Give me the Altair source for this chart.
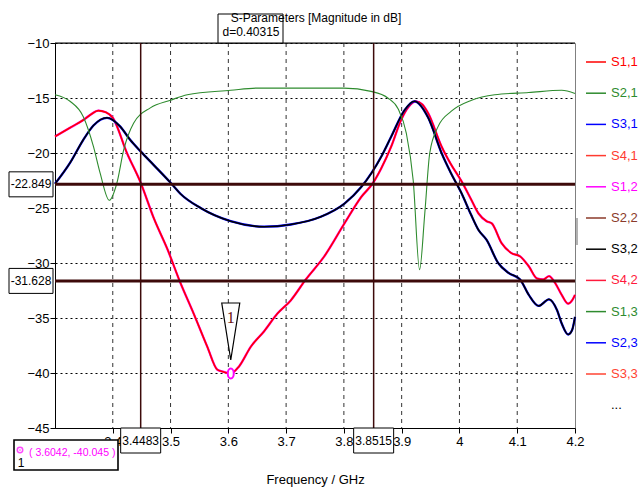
import altair as alt
import pandas as pd

FONT = "Liberation Sans, Arial, sans-serif"

# ---------------- data ----------------
series_names = ["S1,1", "S2,1", "S3,1", "S4,1", "S1,2", "S2,2",
                "S3,2", "S4,2", "S1,3", "S2,3", "S3,3", "..."]
series_colors = ["#ff0000", "#2e8b2e", "#0000ff", "#ff3b30", "#ff00ff", "#8b3a2a",
                 "#000000", "#ff1a3c", "#2e8b2e", "#0000ff", "#ff4433", "#ffffff"]

# group with the deep notch near 3.6 GHz (S1,1 / S1,2 overlap)
freq_a = [3.300, 3.326, 3.349, 3.362, 3.375, 3.388, 3.400, 3.4245, 3.4483, 3.4708,
          3.495, 3.517, 3.540, 3.5635, 3.581, 3.592, 3.604, 3.6185, 3.639, 3.662,
          3.685, 3.708, 3.734, 3.766, 3.801, 3.830, 3.850, 3.8646, 3.882, 3.899,
          3.912, 3.925, 3.936, 3.946, 3.969, 3.985, 4.004, 4.020, 4.033, 4.047,
          4.056, 4.073, 4.090, 4.105, 4.120, 4.134, 4.145, 4.155, 4.166, 4.177,
          4.188, 4.195, 4.200]
s11_db = [-18.5, -17.7, -17.0, -16.5, -16.15, -16.3, -16.8, -20.0, -22.7, -25.9,
          -28.8, -31.8, -34.6, -37.6, -39.7, -39.9, -40.05, -39.4, -37.6, -36.2,
          -34.6, -33.4, -31.5, -29.4, -26.4, -24.0, -22.75, -21.4, -19.4, -17.0,
          -15.8, -15.3, -15.6, -16.4, -19.4, -21.0, -22.6, -24.2, -25.5, -26.2,
          -26.4, -28.2, -29.1, -29.4, -30.3, -31.4, -31.5, -31.2, -31.85, -32.9,
          -33.7, -33.4, -32.9]

# group with the shallow dip near 3.67 GHz (S3,1 / S3,2 overlap)
freq_b = [3.300, 3.326, 3.349, 3.3665, 3.390, 3.413, 3.430, 3.449, 3.471, 3.500,
          3.517, 3.552, 3.604, 3.662, 3.708, 3.760, 3.801, 3.830, 3.865, 3.882,
          3.905, 3.922, 3.946, 3.969, 3.985, 4.004, 4.020, 4.033, 4.047, 4.067,
          4.085, 4.105, 4.120, 4.137, 4.155, 4.169, 4.177, 4.188, 4.195, 4.200]
s32_db = [-22.8, -20.9, -18.8, -17.5, -16.8, -17.6, -18.8, -19.9, -21.1, -22.7,
          -23.7, -25.0, -26.2, -26.7, -26.5, -25.8, -24.6, -23.1, -20.3, -18.5,
          -16.1, -15.3, -16.8, -20.0, -21.8, -23.7, -25.6, -27.0, -27.9, -30.0,
          -30.9, -31.5, -32.9, -33.9, -33.3, -34.3, -35.5, -36.5, -36.1, -34.9]

# transmission-like trace with two sharp notches
freq_c = [3.300, 3.326, 3.349, 3.3665, 3.378, 3.394, 3.407, 3.419, 3.436, 3.465,
          3.500, 3.529, 3.604, 3.650, 3.800, 3.847, 3.876, 3.894, 3.908, 3.920,
          3.931, 3.940, 3.9486, 3.963, 3.986, 4.021, 4.061, 4.120, 4.177, 4.200]
s21_db = [-14.7, -15.3, -16.7, -19.4, -21.8, -24.3, -22.75, -19.7, -17.3, -15.9,
          -15.2, -14.7, -14.3, -14.1, -14.1, -14.4, -15.0, -16.0, -18.2, -22.5,
          -30.6, -25.5, -20.0, -17.6, -16.2, -15.2, -14.7, -14.5, -14.3, -14.6]

marker_levels_db = [-22.849, -31.628]
marker_level_labels = ["-22.849", "-31.628"]
marker_freqs = [3.4483, 3.8515]
marker_freq_labels = ["3.4483", "3.8515"]
delta_label = ["d=0.40315"]
point_freq = [3.6042]
point_db = [-40.045]
point_readout = ["( 3.6042, -40.045 )"]
point_id = ["1"]
title_text = ["S-Parameters [Magnitude in dB]"]

x_ticks = [3.4, 3.5, 3.6, 3.7, 3.8, 3.9, 4.0, 4.1, 4.2]
x_grid = [3.4, 3.5, 3.6, 3.7, 3.8, 3.9, 4.0, 4.1]
y_ticks = [-45, -40, -35, -30, -25, -20, -15, -10]
y_top = [-10]

# ---------------- encodings ----------------
xscale = alt.Scale(domain=[3.3, 4.2], nice=False, zero=False)
yscale = alt.Scale(domain=[-45, -10], nice=False, zero=False)

X = alt.X("f:Q", scale=xscale, title="Frequency / GHz",
          axis=alt.Axis(values=x_ticks, grid=False, tickSize=5, labelPadding=2,
                        labelFont=FONT, labelFontSize=13, labelColor="black",
                        titleFont=FONT, titleFontSize=13, titleFontWeight="normal",
                        titleColor="black", titlePadding=25, domainColor="black",
                        tickColor="black", labelFlush=False, zindex=0,
                        format="~g"))
Y = alt.Y("db:Q", scale=yscale, title=None,
          axis=alt.Axis(values=y_ticks, grid=True, gridDash=[2, 3], gridColor="black",
                        gridOpacity=1, tickSize=5, labelPadding=1, labelFont=FONT,
                        labelFontSize=13, labelColor="black", domainColor="black",
                        tickColor="black", labelFlush=False, zindex=0))

legend = alt.Legend(title=None, orient="none", legendX=530, legendY=8,
                    symbolType="stroke", symbolSize=400, symbolStrokeWidth=1.5,
                    labelFont=FONT, labelFontSize=13, labelOffset=4, rowPadding=13.2,
                    padding=0,
                    labelColor=alt.ExprRef("datum.value == '...' ? 'black' : scale('color', datum.value)"))
C = alt.Color("series:N", scale=alt.Scale(domain=series_names, range=series_colors),
              legend=legend)


def line_layer(freqs, dbs, name, width):
    df = pd.DataFrame({"f": freqs, "db": dbs, "series": name})
    return alt.Chart(df).mark_line(strokeWidth=width, interpolate="monotone").encode(
        x=X, y=Y, color=C)


grid_x = alt.Chart(pd.DataFrame({"f": x_grid})).mark_rule(
    strokeDash=[4, 4], color="#333333", strokeWidth=1).encode(x=X)
top_line = alt.Chart(pd.DataFrame({"db": y_top})).mark_rule(
    color="black", strokeWidth=1).encode(y=Y)

bracket = alt.Chart(pd.DataFrame({"k": [0]})).mark_rule(color="#999999", strokeWidth=1.5).encode(
    x=alt.value(522), y=alt.value(175), y2=alt.value(202))

lines = [
    line_layer(freq_a, s11_db, "S1,2", 2.3),
    line_layer(freq_a, s11_db, "S1,1", 1.6),
    line_layer(freq_b, s32_db, "S3,1", 2.3),
    line_layer(freq_b, s32_db, "S3,2", 1.6),
    line_layer(freq_c, s21_db, "S2,1", 1.1),
]

MARK_COL = "#3d0a0a"
hmarks = alt.Chart(pd.DataFrame({"db": marker_levels_db, "label": marker_level_labels}))
vmarks = alt.Chart(pd.DataFrame({"f": marker_freqs, "label": marker_freq_labels}))

h_rules = hmarks.mark_rule(color=MARK_COL, strokeWidth=3).encode(y=Y)
v_rules = vmarks.mark_rule(color=MARK_COL, strokeWidth=1.5).encode(x=X)

box_y = "M-1,-0.568L1,-0.568L1,0.568L-1,0.568Z"   # 44 x 25
box_x = "M-1,-0.625L1,-0.625L1,0.625L-1,0.625Z"   # 40 x 25
box_d = "M-1,-0.446L1,-0.446L1,0.446L-1,0.446Z"   # 65 x 29
box_r = "M-1,-0.288L1,-0.288L1,0.288L-1,0.288Z"   # 104 x 30

h_boxes = hmarks.mark_point(shape=box_y, size=1936, filled=True, fill="white",
                            stroke="black", strokeWidth=1, opacity=1).encode(
    x=alt.value(-24), y=Y)
h_text = hmarks.mark_text(font=FONT, fontSize=12, color="black").encode(
    x=alt.value(-24), y=Y, text="label:N")

v_boxes = vmarks.mark_point(shape=box_x, size=1600, filled=True, fill="white",
                            stroke="black", strokeWidth=1, opacity=1).encode(
    x=X, y=alt.value(397.5))
v_text = vmarks.mark_text(font=FONT, fontSize=12, color="black").encode(
    x=X, y=alt.value(398), text="label:N")

dbox = alt.Chart(pd.DataFrame({"label": delta_label}))
d_box = dbox.mark_point(shape=box_d, size=4225, filled=True, fill="white",
                        stroke="black", strokeWidth=1, opacity=1).encode(
    x=alt.value(195.5), y=alt.value(-14.5))
d_text = dbox.mark_text(font=FONT, fontSize=12, color="black").encode(
    x=alt.value(196), y=alt.value(-11), text="label:N")

title = alt.Chart(pd.DataFrame({"label": title_text})).mark_text(
    font=FONT, fontSize=12, color="black").encode(
    x=alt.value(261), y=alt.value(-25), text="label:N")

pt = alt.Chart(pd.DataFrame({"f": point_freq, "db": point_db, "id": point_id}))
tri = pt.mark_point(shape="M-0.316,-1L0.316,-1L0,1Z", size=3249, yOffset=-42,
                    filled=True, fill="white", stroke="black", strokeWidth=1.2,
                    opacity=1).encode(x=X, y=Y)
tri_text = pt.mark_text(font="Liberation Serif", fontSize=16, color="#6b1010",
                        dy=-55).encode(x=X, y=Y, text="id:N")
pt_mark = pt.mark_point(shape="M0,-1A0.6,1 0 1,1 0,1A0.6,1 0 1,1 0,-1Z", size=100,
                        filled=True, fill="white", stroke="#ff00ff", strokeWidth=2,
                        opacity=1).encode(x=X, y=Y)

ro = alt.Chart(pd.DataFrame({"label": point_readout, "id": point_id}))
ro_box = ro.mark_point(shape=box_r, size=10816, filled=True, fill="white",
                       stroke="black", strokeWidth=1.6, opacity=1).encode(
    x=alt.value(11), y=alt.value(412))
ro_text = ro.mark_text(font=FONT, fontSize=10.5, color="#ff00ff", align="left").encode(
    x=alt.value(-26), y=alt.value(410), text="label:N")
ro_sym = ro.mark_point(shape="circle", size=30, filled=False, stroke="#ff00ff",
                       strokeWidth=1.5).encode(x=alt.value(-35), y=alt.value(407))
ro_dot = ro.mark_point(shape="circle", size=3, filled=True, color="#ff00ff").encode(
    x=alt.value(-35), y=alt.value(407))
ro_id = ro.mark_text(font=FONT, fontSize=12, color="black").encode(
    x=alt.value(-34), y=alt.value(420), text="id:N")

chart = alt.layer(
    grid_x, top_line, bracket,
    *lines,
    h_rules, v_rules,
    h_boxes, h_text, v_boxes, v_text,
    d_box, d_text, title,
    tri, tri_text, pt_mark,
    ro_box, ro_text, ro_sym, ro_dot, ro_id,
).properties(
    width=520, height=385,
    autosize=alt.AutoSizeParams(type="none"),
    padding={"left": 55, "top": 43, "right": 64, "bottom": 65},
    background="white",
).configure_view(stroke="#808080", strokeWidth=1)

chart.save("out.html", embed_options={"renderer": "svg", "actions": False})
